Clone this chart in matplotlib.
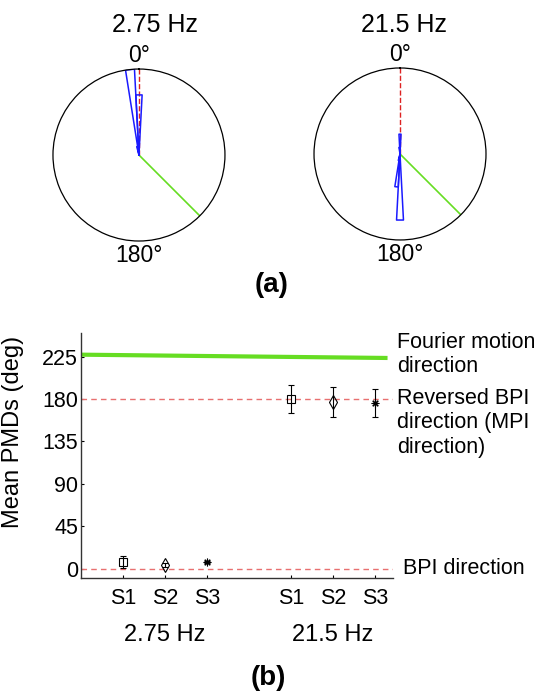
import numpy as np
import matplotlib
matplotlib.use("Agg")
import matplotlib.pyplot as plt
import matplotlib.transforms as mtransforms

plt.rcParams['font.family'] = ['Liberation Sans', 'DejaVu Sans']

# rose histograms (bin centres in deg, counts)
bin_width = 6
rose_centres_lo = [0, 6, 12]
rose_counts_lo = [7, 10, 1]
rose_rmax_lo = 10
rose_centres_hi = [0, 6, 168, 174, 180]
rose_counts_hi = [3, 1, 1, 5, 10]
rose_rmax_hi = 13
fourier_dir = 225
bpi_dir = 0

# mean PMDs
freq_labels = ['2.75 Hz', '21.5 Hz']
subject_labels = ['S1', 'S2', 'S3', 'S1', 'S2', 'S3']
x_pos = [1, 2, 3, 5, 6, 7]
pmd_mean = [7, 4, 7, 180, 177, 176]
pmd_err = [6, 2, 1, 15, 16, 15]
markers = ['s', 'd', (8, 2, 0), 's', 'd', (8, 2, 0)]
fourier_x = [0, 7.3]
fourier_y = [227, 223.5]
yticks = [0, 45, 90, 135, 180, 225]

fig = plt.figure(figsize=(5.4, 6.95), dpi=100)

green = '#66dd22'


def rose(rect, centres, counts, rmax, title, title_x):
    ax = fig.add_axes(rect, projection='polar')
    ax.set_theta_zero_location('N')
    ax.set_theta_direction(1)
    ax.set_rlim(0, rmax)
    ax.grid(False)
    ax.set_yticks([])
    ax.set_xticks([])
    ax.spines['polar'].set_linewidth(0.9)
    ax.plot(np.radians([bpi_dir, bpi_dir]), [0, rmax], '--', color='#dd2222', lw=1.0)
    ax.plot(np.radians([fourier_dir, fourier_dir]), [0, rmax], color=green, lw=1.2)
    for c, n in zip(centres, counts):
        t1 = np.radians(c - bin_width / 2)
        t2 = np.radians(c + bin_width / 2)
        ax.plot([t1, t1, t2, t2], [0, n, n, 0], color='#1a1aff', lw=1.1)
    # angle labels just outside the circle
    ax.text(0, rmax * 1.16, '0°', fontsize=16.5, ha='center', va='center', clip_on=False)
    ax.text(np.pi, rmax * 1.17, '180°', fontsize=16.5, ha='center', va='center', clip_on=False)
    fig.text(title_x, 1 - 25 / 695, title, fontsize=18, ha='center', va='center')
    return ax


rose([0.0981, 0.6532, 0.3185, 0.2475], rose_centres_lo, rose_counts_lo, rose_rmax_lo, freq_labels[0], 155 / 540)
rose([0.5815, 0.6547, 0.3185, 0.2475], rose_centres_hi, rose_counts_hi, rose_rmax_hi, freq_labels[1], 404 / 540)
fig.text(272 / 540, 1 - 285 / 695, '(a)', fontsize=20, fontweight='bold', ha='center', va='center')

# lower panel
ax = fig.add_axes([81 / 540, 1 - 578 / 695, 312 / 540, 245 / 695])
ax.set_xlim(0, 7.43)
ax.set_ylim(-10, 250)
for s in ['top', 'right']:
    ax.spines[s].set_visible(False)
for s in ['left', 'bottom']:
    ax.spines[s].set_linewidth(1.0)
    ax.spines[s].set_color('#333333')

ax.axhline(180, color='#e87070', ls='--', lw=1.0, dashes=(4, 3))
ax.axhline(0, color='#e87070', ls='--', lw=1.0, dashes=(4, 3))
ax.plot(fourier_x, fourier_y, color=green, lw=3, solid_capstyle='butt')

for x, m, e, mk in zip(x_pos, pmd_mean, pmd_err, markers):
    ax.errorbar(x, m, yerr=e, fmt='none', ecolor='black', elinewidth=0.8, capsize=2.5, capthick=0.8)
    size = 7.5 if mk == 'd' else (6 if mk == 's' else 5.5)
    ax.plot(x, m, marker=mk, ms=size, mfc='none', mec='black', mew=0.8, ls='none')

ax.set_yticks(yticks)
ax.set_xticks(x_pos)
ax.set_xticklabels(subject_labels)
ax.tick_params(direction='in', length=2, labelsize=15.5)
ax.tick_params(axis='x', pad=7)
ax.tick_params(axis='y', pad=2)
ax.set_ylabel('Mean PMDs (deg)', fontsize=17)
ax.yaxis.set_label_coords(-0.183, 0.596)

trans = mtransforms.blended_transform_factory(ax.transData, ax.transAxes)
ax.text(2, -0.232, freq_labels[0], transform=trans, fontsize=17, ha='center', va='center')
ax.text(6, -0.232, freq_labels[1], transform=trans, fontsize=17, ha='center', va='center')

ax.text(7.52, 227.4, 'Fourier motion\ndirection', fontsize=15.5, ha='left', va='center',
        linespacing=1.2, clip_on=False)
ax.text(7.52, 154.5, 'Reversed BPI\ndirection (MPI\ndirection)', fontsize=15.5, ha='left', va='center',
        linespacing=1.2, clip_on=False)
ax.text(7.67, 0, 'BPI direction', fontsize=15.5, ha='left', va='center', clip_on=False)

fig.text(268 / 540, 1 - 678 / 695, '(b)', fontsize=20, fontweight='bold', ha='center', va='center')

fig.savefig('out.png', dpi=100)
